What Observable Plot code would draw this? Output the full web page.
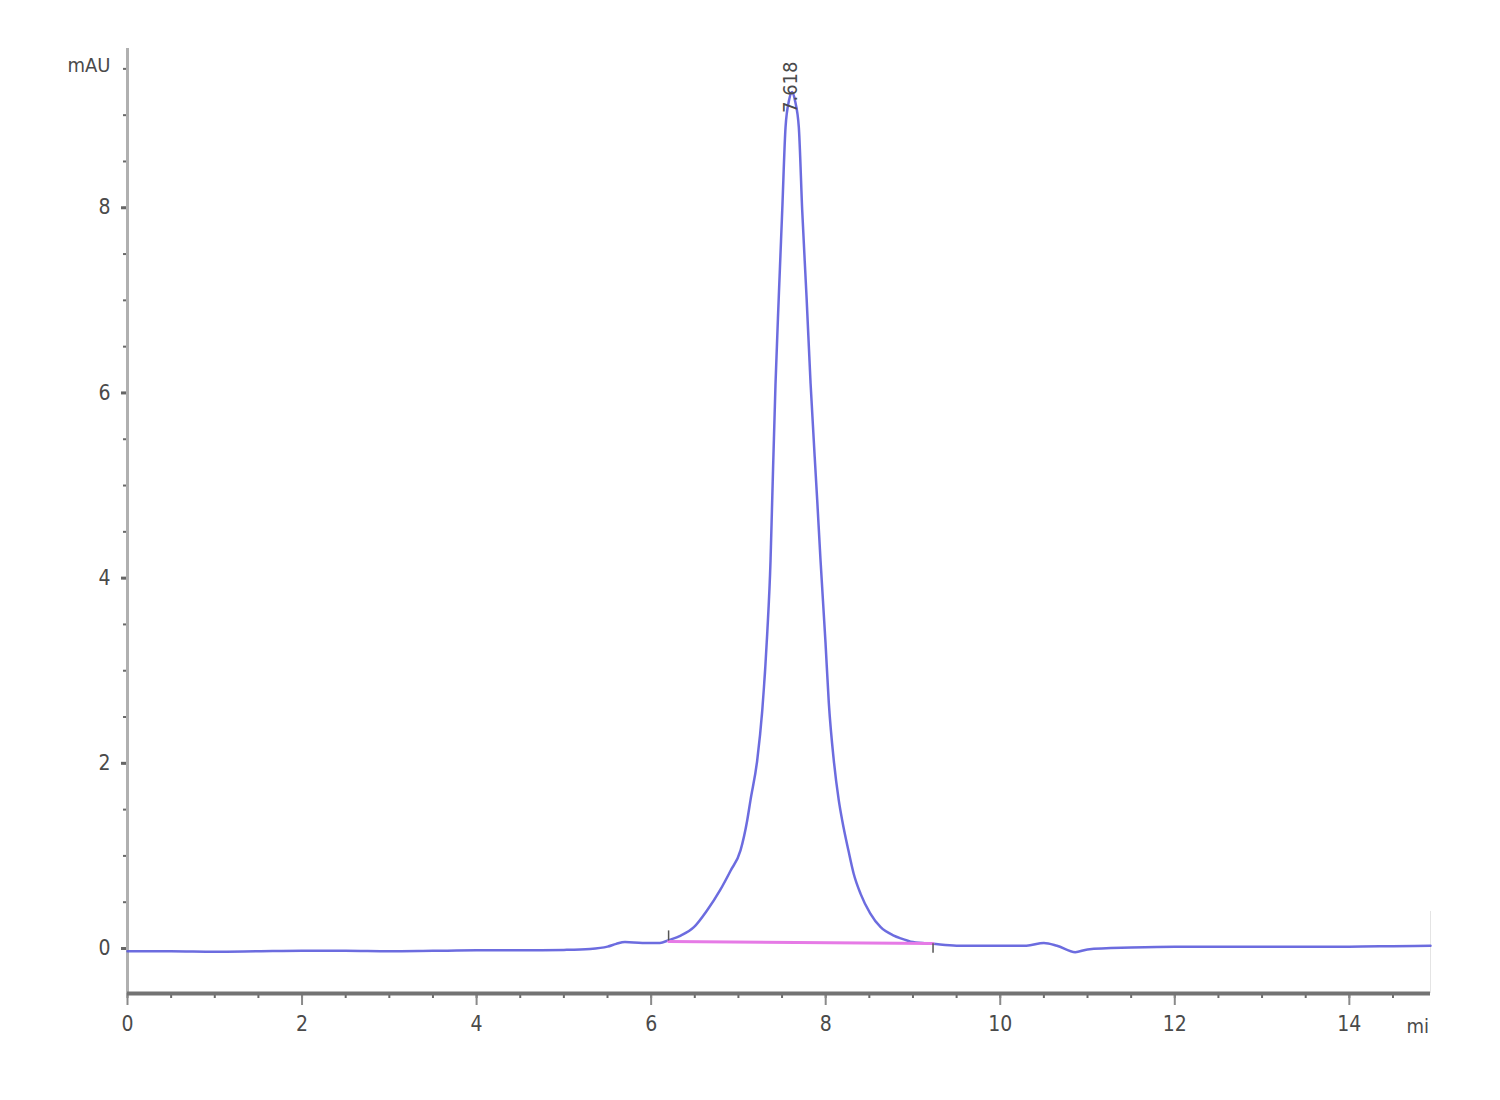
<!DOCTYPE html>
<html>
<head>
<meta charset="utf-8">
<script src="https://cdn.jsdelivr.net/npm/d3@7"></script>
<script src="https://cdn.jsdelivr.net/npm/@observablehq/plot@0.6"></script>
<style>
  html, body { margin: 0; padding: 0; background: #fff; }
  #chart { width: 1500px; height: 1100px; }
</style>
</head>
<body>
<div id="chart"></div>
<script>
// Chromatogram trace: retention time (min) and absorbance (mAU)
const times = [0, 0.5, 1.0, 1.5, 2.0, 2.5, 3.0, 3.5, 4.0, 4.5, 5.0, 5.3, 5.5, 5.6, 5.7, 5.9, 6.1, 6.2,
  6.34, 6.49, 6.64, 6.79, 6.91, 7.024, 7.10, 7.138, 7.215, 7.273, 7.33, 7.368, 7.387, 7.425, 7.463, 7.502, 7.54, 7.58,
  7.617, 7.65, 7.692, 7.731, 7.78, 7.827, 7.903, 7.941, 7.998, 8.036, 8.093, 8.15, 8.19, 8.26, 8.32, 8.40, 8.51, 8.63,
  8.78, 8.86, 9.0, 9.23, 9.5, 10.0, 10.3, 10.5, 10.65, 10.86, 11.0, 11.5, 12.0, 13.0, 14.0, 14.5, 14.93];
const absorbance = [-0.03, -0.03, -0.035, -0.03, -0.025, -0.025, -0.03, -0.025, -0.02, -0.02, -0.015, -0.005, 0.02, 0.05, 0.07, 0.06, 0.06, 0.09,
  0.14, 0.23, 0.41, 0.63, 0.84, 1.06, 1.38, 1.60, 2.03, 2.57, 3.40, 4.19, 4.84, 6.10, 7.05, 7.97, 8.87, 9.16,
  9.25, 9.15, 8.87, 7.97, 7.05, 6.10, 4.84, 4.19, 3.30, 2.65, 2.03, 1.60, 1.38, 1.06, 0.81, 0.59, 0.38, 0.23,
  0.14, 0.11, 0.07, 0.05, 0.03, 0.03, 0.03, 0.06, 0.03, -0.04, -0.01, 0.01, 0.02, 0.02, 0.02, 0.025, 0.03];

// Integration baseline of the peak
const baseTimes = [6.2, 9.23];
const baseValues = [0.076, 0.054];
// Peak start/end markers (time, from, to)
const markTimes = [6.2, 9.23];
const markFrom = [0.08, 0.05];
const markTo = [0.19, -0.05];

// Peak label
const peakTime = [7.618];
const peakHeight = [9.25];
const peakLabel = ["7.618"];

// Axis ticks
const xMajorTicks = [0, 2, 4, 6, 8, 10, 12, 14];
const yMajorTicks = [0, 2, 4, 6, 8];
const xMinorTicks = d3.range(0, 15, 0.5);
const yMinorTicks = d3.range(0, 10, 0.5);

const xDomain = [0, 14.93];
const yDomain = [-0.486, 9.72];

const trace = times.map((t, i) => ({t, v: absorbance[i]}));
const baseline = baseTimes.map((t, i) => ({t, v: baseValues[i]}));
const marks = markTimes.map((t, i) => ({t, a: markFrom[i], b: markTo[i]}));
const peaks = peakTime.map((t, i) => ({t, v: peakHeight[i], label: peakLabel[i]}));

const font = "'Liberation Sans Narrow', 'DejaVu Sans Condensed', 'Liberation Sans', sans-serif";
const fmt = d => String(d);

const plot = Plot.plot({
  width: 1500,
  height: 1100,
  marginLeft: 127,
  marginRight: 70,
  marginTop: 48,
  marginBottom: 107,
  style: {fontFamily: font, background: "#fff", color: "#555"},
  x: {domain: xDomain},
  y: {domain: yDomain},
  marks: [
    // minor ticks
    Plot.axisX(xMinorTicks, {tickSize: 5, text: null, label: null, stroke: "#6a6a6a", strokeWidth: 2}),
    Plot.axisY(yMinorTicks, {tickSize: 4, text: null, label: null, stroke: "#6a6a6a", strokeWidth: 2}),
    // major ticks
    Plot.axisX(xMajorTicks, {tickSize: 12, tickPadding: 11, fontSize: 21, tickFormat: fmt, stroke: "#8a8a8a", fill: "#4a4a4a", strokeWidth: 2, label: null}),
    Plot.axisY(yMajorTicks, {tickSize: 6, tickPadding: 11, fontSize: 21, tickFormat: fmt, stroke: "#666", fill: "#4a4a4a", strokeWidth: 3, label: null}),
    // axis lines
    Plot.ruleX([xDomain[0]], {stroke: "#b0b0b0", strokeWidth: 3}),
    Plot.ruleX([xDomain[1]], {y1: yDomain[0], y2: 0.4, stroke: "#e4e4e4", strokeWidth: 1}),
    Plot.ruleY([yDomain[0]], {stroke: "#737373", strokeWidth: 4}),
    // trace
    Plot.line(trace, {x: "t", y: "v", stroke: "#5c5cdc", strokeWidth: 2.5, curve: "monotone-x", strokeOpacity: 0.9}),
    // baseline
    Plot.line(baseline, {x: "t", y: "v", stroke: "#e67ae6", strokeWidth: 3}),
    Plot.ruleX(marks, {x: "t", y1: "a", y2: "b", stroke: "#555", strokeWidth: 1.5}),
    // peak label
    Plot.text(peaks, {x: "t", y: "v", text: "label", rotate: -90, textAnchor: "start", dy: 21, dx: -2,
      fontSize: 20, fill: "#4a4a4a", letterSpacing: 2}),
    // unit labels
    Plot.text(["mAU"], {frameAnchor: "top-left", lineAnchor: "middle", dx: -17, dy: 17, textAnchor: "end", fontSize: 20, fill: "#4a4a4a"}),
    Plot.text(["min"], {frameAnchor: "bottom-right", lineAnchor: "middle", dx: -24, dy: 33, textAnchor: "start", fontSize: 20, fill: "#4a4a4a"})
  ]
});

document.getElementById("chart").appendChild(plot);

// clip the "min" unit label at the frame's right edge, as in the original
const svg = d3.select(plot);
svg.append("defs").append("clipPath").attr("id", "rightclip")
  .append("rect").attr("x", 0).attr("y", 0).attr("width", 1430).attr("height", 1100);
const holder = svg.append("g").attr("clip-path", "url(#rightclip)");
svg.selectAll("text").filter(function() { return d3.select(this).text() === "min"; })
  .each(function() {
    const grp = this.closest("g[aria-label='text']") || this.parentNode;
    holder.node().appendChild(grp);
  });
</script>
</body>
</html>
